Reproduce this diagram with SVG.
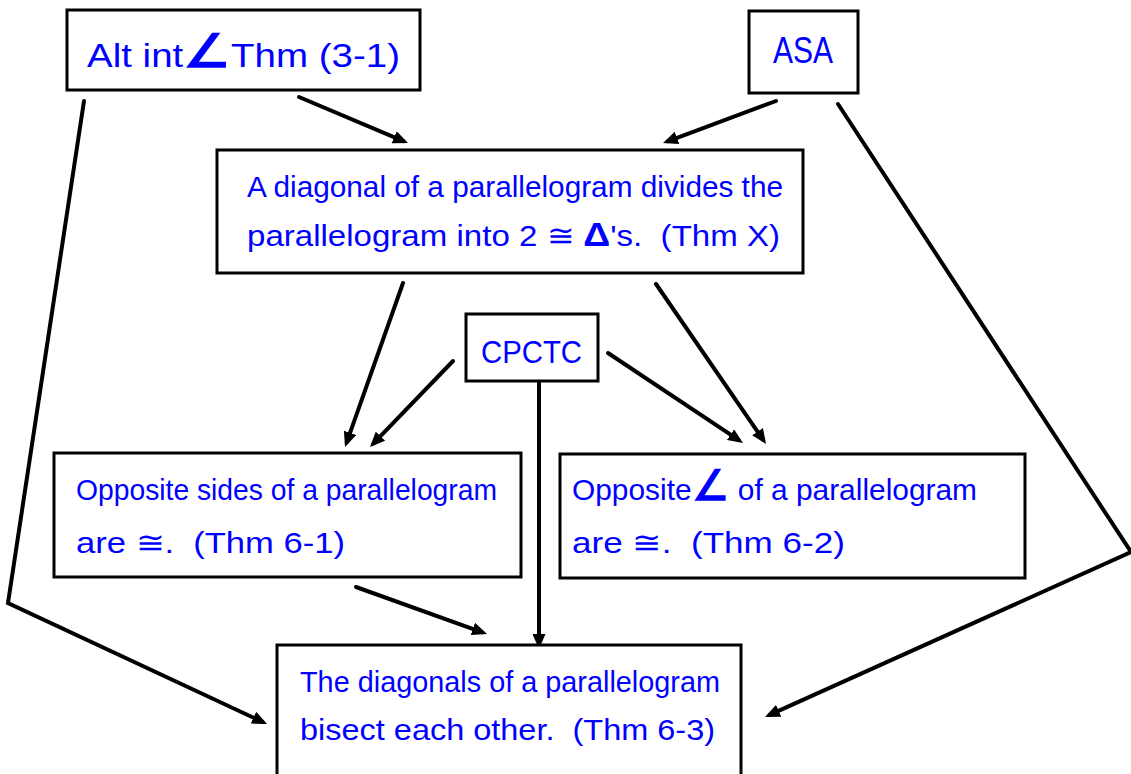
<svg xmlns="http://www.w3.org/2000/svg" width="1131" height="774" viewBox="0 0 1131 774">
<style>
.box{fill:#fff;stroke:#000;stroke-width:3}
.t{font-family:"Liberation Sans","Open Sans",sans-serif;fill:#0000ff;white-space:pre}
.b{font-weight:bold}
.c line,.c polyline{stroke:#000;stroke-width:4;fill:none;stroke-linecap:round;stroke-linejoin:miter}
</style>
<defs>
<marker id="ah" markerUnits="userSpaceOnUse" markerWidth="15" markerHeight="13" viewBox="0 0 15 13" refX="10" refY="6.5" orient="auto">
<path d="M0,0 L15,6.5 L0,13 Z" fill="#000"/>
</marker>
</defs>
<rect width="1131" height="774" fill="#fff"/>
<g class="c" id="connectors">
<line x1="299" y1="97" x2="403.4" y2="141.1" marker-end="url(#ah)"/>
<line x1="776" y1="101" x2="667.7" y2="141.3" marker-end="url(#ah)"/>
<polyline points="84,101 8,603 262.5,721.9" marker-end="url(#ah)"/>
<polyline points="838,104 1131,552 769.6,714.9" marker-end="url(#ah)"/>
<line x1="403" y1="283" x2="346.7" y2="442.3" marker-end="url(#ah)"/>
<line x1="453" y1="361" x2="373.5" y2="443.4" marker-end="url(#ah)"/>
<line x1="608" y1="353" x2="738.8" y2="440.2" marker-end="url(#ah)"/>
<line x1="656" y1="284" x2="763.2" y2="439.9" marker-end="url(#ah)"/>
<line x1="539" y1="383" x2="539" y2="644" marker-end="url(#ah)"/>
<line x1="356" y1="587" x2="482.3" y2="632.3" marker-end="url(#ah)"/>
</g>
<g id="alt">
<rect class="box" x="67" y="10" width="353" height="80"/>
<text class="t" x="87" y="67" font-size="33" textLength="313" lengthAdjust="spacingAndGlyphs">Alt int<tspan class="b" font-size="46">∠</tspan>Thm (3-1)</text>
</g>
<g id="asa">
<rect class="box" x="749" y="11" width="109" height="82"/>
<text class="t" x="773" y="63" font-size="36" textLength="60" lengthAdjust="spacingAndGlyphs">ASA</text>
</g>
<g id="thmx">
<rect class="box" x="217" y="150" width="586" height="123"/>
<text class="t" x="247" y="197" font-size="30" textLength="536" lengthAdjust="spacingAndGlyphs">A diagonal of a parallelogram divides the</text>
<text class="t" x="247" y="246" font-size="30" textLength="533" lengthAdjust="spacingAndGlyphs">parallelogram into 2 ≅ <tspan class="b" font-size="34">Δ</tspan>'s.  (Thm X)</text>
</g>
<g id="cpctc">
<rect class="box" x="466" y="314" width="132" height="67"/>
<text class="t" x="481" y="363" font-size="31" textLength="101" lengthAdjust="spacingAndGlyphs">CPCTC</text>
</g>
<g id="thm61">
<rect class="box" x="54" y="453" width="467" height="124"/>
<text class="t" x="76" y="500" font-size="30" textLength="421" lengthAdjust="spacingAndGlyphs">Opposite sides of a parallelogram</text>
<text class="t" x="76" y="553" font-size="30" textLength="269" lengthAdjust="spacingAndGlyphs">are ≅.  (Thm 6-1)</text>
</g>
<g id="thm62">
<rect class="box" x="560" y="454" width="465" height="124"/>
<text class="t" x="572" y="500" font-size="30" textLength="405" lengthAdjust="spacingAndGlyphs">Opposite<tspan class="b" font-size="42">∠</tspan> of a parallelogram</text>
<text class="t" x="572" y="553" font-size="30" textLength="273" lengthAdjust="spacingAndGlyphs">are ≅.  (Thm 6-2)</text>
</g>
<g id="thm63">
<rect class="box" x="277" y="645" width="464" height="140"/>
<text class="t" x="300" y="692" font-size="30" textLength="420" lengthAdjust="spacingAndGlyphs">The diagonals of a parallelogram</text>
<text class="t" x="300" y="740" font-size="30" textLength="415" lengthAdjust="spacingAndGlyphs">bisect each other.  (Thm 6-3)</text>
</g>
</svg>
